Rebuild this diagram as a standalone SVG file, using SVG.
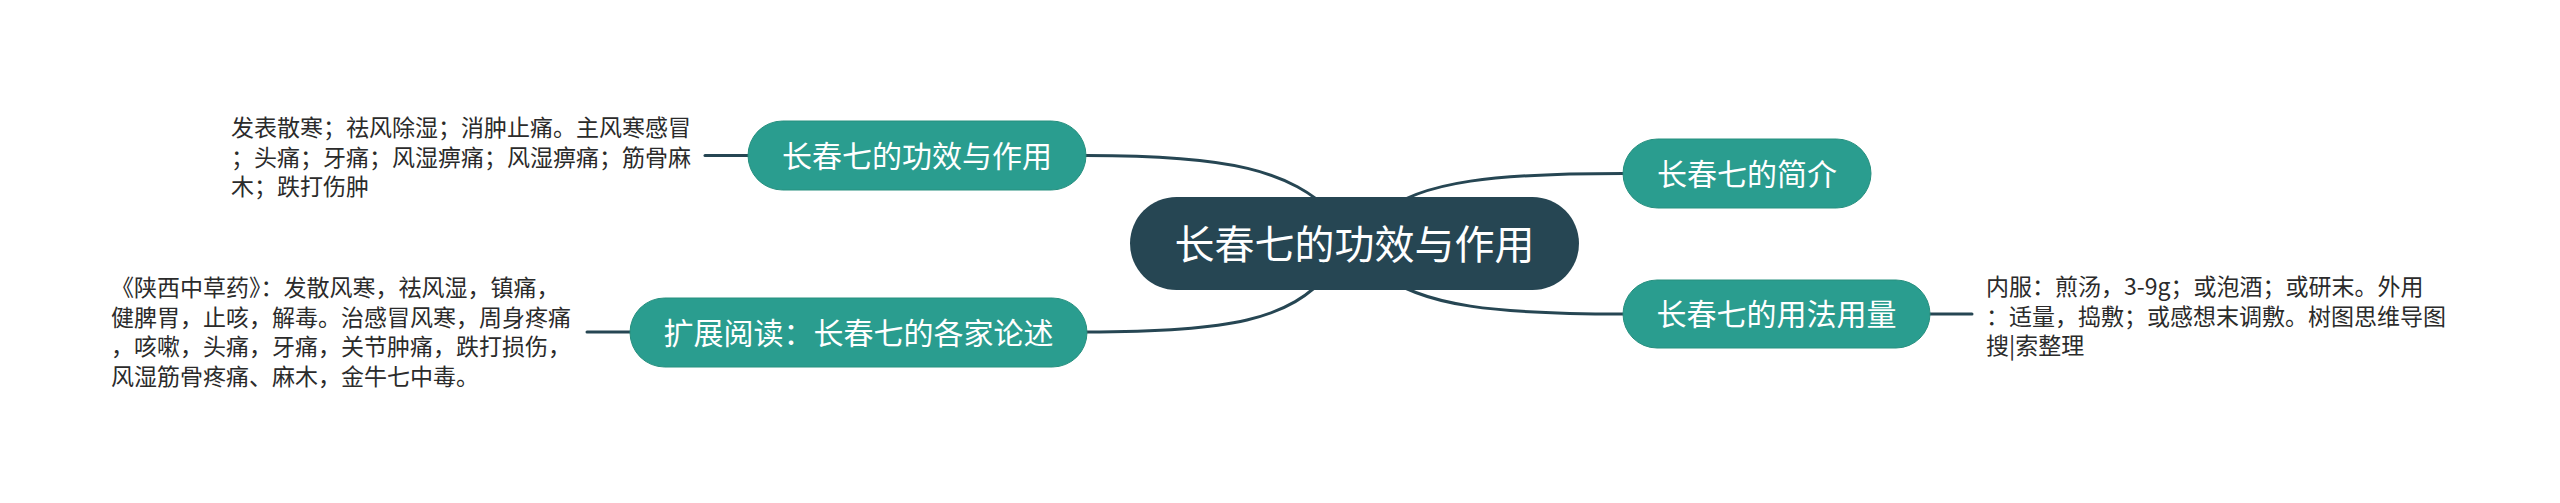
<svg xmlns="http://www.w3.org/2000/svg" width="2560" height="503" viewBox="0 0 2560 503">
<style>
.conn{fill:none;stroke:#264653;stroke-width:3;stroke-linecap:round}
.sub rect{fill:#2a9d8f;stroke:#27907f;stroke-width:1}
.sub text{font-family:"Noto Sans CJK SC","Microsoft YaHei",sans-serif;font-size:30px;fill:#ffffff;text-anchor:middle}
.root rect{fill:#264653}
.root text{font-family:"Noto Sans CJK SC","Microsoft YaHei",sans-serif;font-size:40px;fill:#ffffff;text-anchor:middle}
.note{font-family:"Noto Sans CJK SC","Microsoft YaHei",sans-serif;font-size:23px;fill:#2b2b2b}
</style>
<rect width="2560" height="503" fill="#ffffff"/>
<g id="connectors">
<path class="conn" d="M1086 155.5 C1230 155.5 1290 170 1335 215"/>
<path class="conn" d="M1086 332 C1230 332 1290 320 1330 272"/>
<path class="conn" d="M1623 173.5 C1500 173.5 1420 180 1380 215"/>
<path class="conn" d="M1623 314 C1500 314 1420 307 1380 272"/>
<path class="conn" d="M705 155.5 H748"/>
<path class="conn" d="M587 332 H630"/>
<path class="conn" d="M1930 314 H1972"/>
</g>
<g id="root" class="root">
<rect x="1130" y="197" width="449" height="93" rx="46.5"/>
<text x="1354.5" y="258.5">长春七的功效与作用</text>
</g>
<g id="n1" class="sub">
<rect x="748" y="121" width="338" height="69" rx="34.5"/>
<text x="917" y="166.5">长春七的功效与作用</text>
</g>
<g id="n2" class="sub">
<rect x="630" y="298" width="457" height="69" rx="34.5"/>
<text x="858.5" y="343.5">扩展阅读：长春七的各家论述</text>
</g>
<g id="n3" class="sub">
<rect x="1623" y="139" width="248" height="69" rx="34.5"/>
<text x="1747" y="184.5">长春七的简介</text>
</g>
<g id="n4" class="sub">
<rect x="1623" y="280" width="307" height="68" rx="34"/>
<text x="1776.5" y="325">长春七的用法用量</text>
</g>
<g id="t1">
<text class="note" x="231" y="136"><tspan x="231">发表散寒；祛风除湿；消肿止痛。主风寒感冒</tspan><tspan x="231" dy="29.5">；头痛；牙痛；风湿痹痛；风湿痹痛；筋骨麻</tspan><tspan x="231" dy="29.5">木；跌打伤肿</tspan></text>
</g>
<g id="t2">
<text class="note" x="111" y="296"><tspan x="111">《陕西中草药》：发散风寒，祛风湿，镇痛，</tspan><tspan x="111" dy="29.5">健脾胃，止咳，解毒。治感冒风寒，周身疼痛</tspan><tspan x="111" dy="29.5">，咳嗽，头痛，牙痛，关节肿痛，跌打损伤，</tspan><tspan x="111" dy="29.5">风湿筋骨疼痛、麻木，金牛七中毒。</tspan></text>
</g>
<g id="t3">
<text class="note" x="1986" y="295"><tspan x="1986">内服：煎汤，3-9g；或泡酒；或研末。外用</tspan><tspan x="1986" dy="29.5">：适量，捣敷；或感想末调敷。树图思维导图</tspan><tspan x="1986" dy="29.5">搜|索整理</tspan></text>
</g>
</svg>
